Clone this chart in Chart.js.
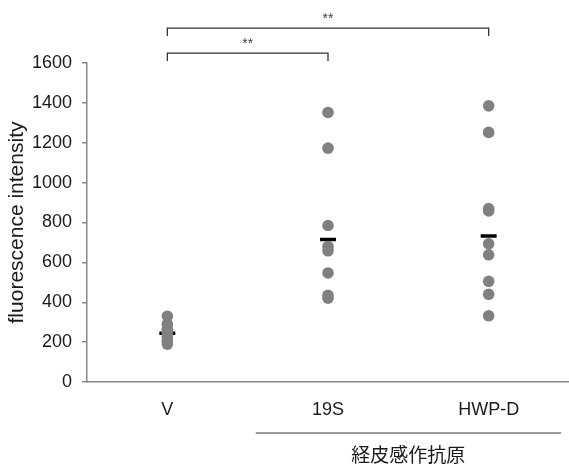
<!DOCTYPE html>
<html>
<head>
<meta charset="utf-8">
<script src="https://cdn.jsdelivr.net/npm/chart.js@4.4.1/dist/chart.umd.min.js"></script>
<style>
html,body{margin:0;padding:0;background:#fff;}
#wrap{width:569px;height:466px;position:relative;}
</style>
</head>
<body>
<div id="wrap"><canvas id="c" width="569" height="466"></canvas></div>
<script>
const categories = ['V', '19S', 'HWP-D'];
const valuesV = [330, 290, 265, 245, 225, 205, 190];
const values19S = [1352, 1173, 785, 680, 658, 547, 435, 420];
const valuesHWPD = [1385, 1252, 870, 858, 693, 638, 505, 440, 332];
const meanValues = [245, 715, 732];
const yTicks = [0, 200, 400, 600, 800, 1000, 1200, 1400, 1600];
const yTitle = 'fluorescence intensity';
const groupLabel = '経皮感作抗原';
const groupMembers = ['19S', 'HWP-D'];
const comparisons = [
  { from: 'V', to: '19S', level: 1650, label: '**' },
  { from: 'V', to: 'HWP-D', level: 1775, label: '**' }
];

const seriesList = [valuesV, values19S, valuesHWPD];
const pointData = [];
seriesList.forEach((arr, i) => arr.forEach(v => pointData.push({ x: categories[i], y: v })));
const meanData = meanValues.map((v, i) => ({ x: categories[i], y: v }));

const FONT = "'Liberation Sans', Arial, sans-serif";

const annotations = {
  id: 'annotations',
  afterDraw(chart) {
    const ctx = chart.ctx;
    const xs = chart.scales.x, ys = chart.scales.y;
    ctx.save();
    ctx.strokeStyle = '#333';
    ctx.lineWidth = 1.3;
    ctx.fillStyle = '#444';
    ctx.font = "14px " + FONT;
    ctx.textAlign = 'center';
    ctx.textBaseline = 'middle';
    comparisons.forEach(c => {
      const x1 = xs.getPixelForValue(categories.indexOf(c.from));
      const x2 = xs.getPixelForValue(categories.indexOf(c.to));
      const yl = ys.getPixelForValue(c.level);
      const drop = 8;
      ctx.beginPath();
      ctx.moveTo(x1, yl + drop);
      ctx.lineTo(x1, yl);
      ctx.lineTo(x2, yl);
      ctx.lineTo(x2, yl + drop);
      ctx.stroke();
      ctx.fillText(c.label, (x1 + x2) / 2, yl - 9);
    });
    const i1 = categories.indexOf(groupMembers[0]);
    const i2 = categories.indexOf(groupMembers[groupMembers.length - 1]);
    const gx1 = xs.getPixelForValue(i1 - 0.45);
    const gx2 = xs.getPixelForValue(i2 + 0.45);
    const gy = 433;
    ctx.strokeStyle = '#777';
    ctx.lineWidth = 1.5;
    ctx.beginPath();
    ctx.moveTo(gx1, gy);
    ctx.lineTo(gx2, gy);
    ctx.stroke();
    ctx.fillStyle = '#1a1a1a';
    ctx.font = "19px 'Noto Sans CJK JP', sans-serif";
    ctx.textBaseline = 'middle';
    ctx.fillText(groupLabel, (xs.getPixelForValue(i1) + xs.getPixelForValue(i2)) / 2, 455);
    ctx.restore();
  }
};

new Chart(document.getElementById('c'), {
  type: 'scatter',
  data: {
    labels: categories,
    datasets: [
      {
        label: 'values',
        data: pointData,
        backgroundColor: '#808080',
        borderColor: '#808080',
        pointRadius: 5.8,
        pointHoverRadius: 5.8,
        borderWidth: 0
      },
      {
        label: 'mean',
        data: meanData,
        pointStyle: 'line',
        pointRadius: 8,
        pointHoverRadius: 8,
        borderColor: '#000',
        borderWidth: 3.5
      }
    ]
  },
  options: {
    responsive: false,
    animation: false,
    layout: { autoPadding: false, padding: { top: 63, right: 0, bottom: 0, left: 0 } },
    plugins: { legend: { display: false }, tooltip: { enabled: false } },
    scales: {
      x: {
        type: 'category',
        labels: categories,
        offset: true,
        grid: { display: true, drawOnChartArea: false, drawTicks: false },
        border: { display: true, color: '#888', width: 1.5 },
        ticks: { color: '#1a1a1a', font: { family: FONT, size: 18 }, padding: 17 },
        afterFit(s) { s.height = 84; s.paddingLeft = 0; s.paddingRight = 0; }
      },
      y: {
        min: 0,
        max: 1600,
        afterBuildTicks(s) { s.ticks = yTicks.map(v => ({ value: v })); },
        grid: { drawOnChartArea: false, drawTicks: true, tickLength: 5, color: '#888', lineWidth: 1.5 },
        border: { display: true, color: '#888', width: 1.5 },
        ticks: { color: '#1a1a1a', font: { family: FONT, size: 18 }, padding: 10, callback: v => String(v) },
        title: { display: true, text: yTitle, color: '#1a1a1a', font: { family: FONT, size: 21 }, padding: { top: 5, bottom: 0 } },
        afterFit(s) { s.width = 87; s.paddingTop = 0; s.paddingBottom = 0; }
      }
    }
  },
  plugins: [annotations]
});
</script>
</body>
</html>
